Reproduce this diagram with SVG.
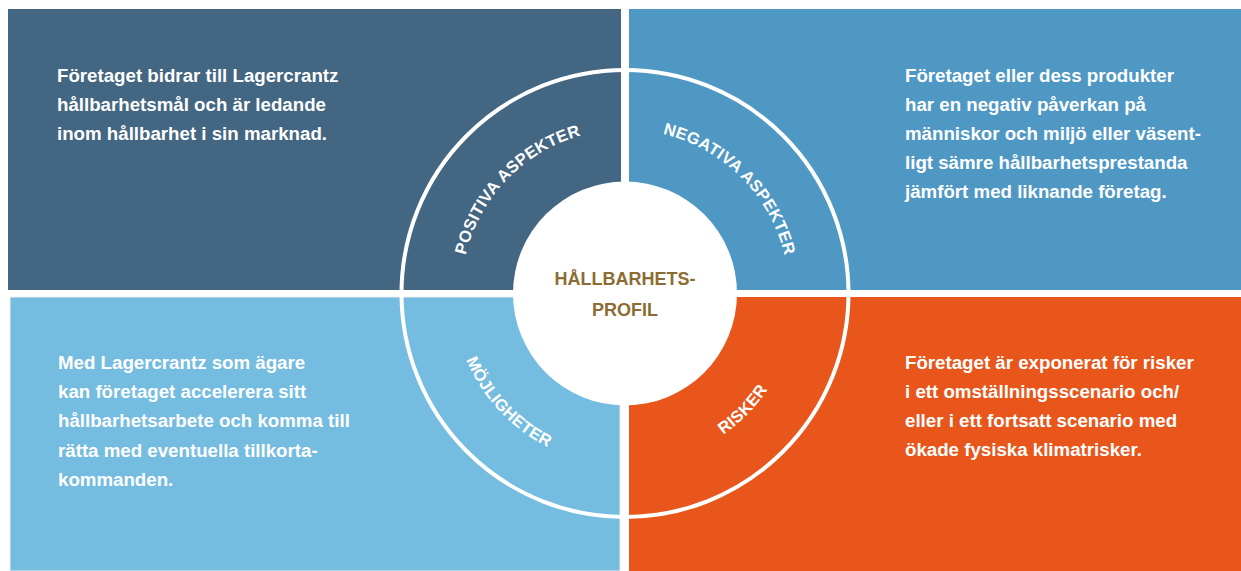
<svg xmlns="http://www.w3.org/2000/svg" width="1241" height="571" viewBox="0 0 1241 571">
<defs>
<style>
.body{font-family:"Liberation Sans",Arial,sans-serif;font-weight:bold;font-size:18.7px;fill:#ffffff}
.arc{font-family:"Liberation Sans",Arial,sans-serif;font-weight:bold;font-size:16.5px;letter-spacing:0.3px;fill:#ffffff}
.center{font-family:"Liberation Sans",Arial,sans-serif;font-weight:bold;font-size:18px;fill:#8c6c33}
</style>
<path id="pTL" d="M467.35,338.7 A164,164 0 0 1 664.67,134.37"/>
<path id="pTR" d="M582.55,135.09 A164,164 0 0 1 783.41,335.95"/>
<path id="pBL" d="M460.52,243.21 A172,172 0 0 0 663.70,461.10"/>
<path id="pBR" d="M581.93,460.01 A172,172 0 0 0 790.74,247.54"/>
</defs>
<rect width="1241" height="571" fill="#ffffff"/>
<g id="positiva">
<rect x="8" y="9" width="613" height="281" fill="#436682"/>
<text class="body"><tspan x="57" y="81.5">Företaget bidrar till Lagercrantz</tspan><tspan x="57" y="111">hållbarhetsmål och är ledande</tspan><tspan x="57" y="140">inom hållbarhet i sin marknad.</tspan></text>
</g>
<g id="negativa">
<rect x="629" y="9" width="612" height="281" fill="#4f98c4"/>
<text class="body"><tspan x="905" y="81.5">Företaget eller dess produkter</tspan><tspan x="905" y="110.5">har en negativ påverkan på</tspan><tspan x="905" y="139.5">människor och miljö eller väsent-</tspan><tspan x="905" y="168.5">ligt sämre hållbarhetsprestanda</tspan><tspan x="905" y="197.5">jämfört med liknande företag.</tspan></text>
</g>
<g id="mojligheter">
<rect x="10" y="297" width="610" height="274" fill="#74bce0" stroke="#eeeeee" stroke-width="1"/>
<text class="body"><tspan x="58" y="369">Med Lagercrantz som ägare</tspan><tspan x="58" y="398">kan företaget accelerera sitt</tspan><tspan x="58" y="427">hållbarhetsarbete och komma till</tspan><tspan x="58" y="456.5">rätta med eventuella tillkorta-</tspan><tspan x="58" y="485.5">kommanden.</tspan></text>
</g>
<g id="risker">
<rect x="629" y="297" width="612" height="274" fill="#e8561b"/>
<text class="body"><tspan x="905" y="368.5">Företaget är exponerat för risker</tspan><tspan x="905" y="398">i ett omställningsscenario och/</tspan><tspan x="905" y="427">eller i ett fortsatt scenario med</tspan><tspan x="905" y="456">ökade fysiska klimatrisker.</tspan></text>
</g>
<g id="ring">
<circle cx="625" cy="293.5" r="223.5" fill="none" stroke="#ffffff" stroke-width="4"/>
<text class="arc"><textPath href="#pTL" startOffset="50%" text-anchor="middle">POSITIVA ASPEKTER</textPath></text>
<text class="arc"><textPath href="#pTR" startOffset="50%" text-anchor="middle">NEGATIVA ASPEKTER</textPath></text>
<text class="arc"><textPath href="#pBL" startOffset="50%" text-anchor="middle">MÖJLIGHETER</textPath></text>
<text class="arc"><textPath href="#pBR" startOffset="50%" text-anchor="middle">RISKER</textPath></text>
</g>
<g id="hallbarhetsprofil">
<circle cx="625" cy="293.5" r="112" fill="#ffffff"/>
<text class="center" text-anchor="middle"><tspan x="625" y="285">HÅLLBARHETS-</tspan><tspan x="625" y="316">PROFIL</tspan></text>
</g>
</svg>
